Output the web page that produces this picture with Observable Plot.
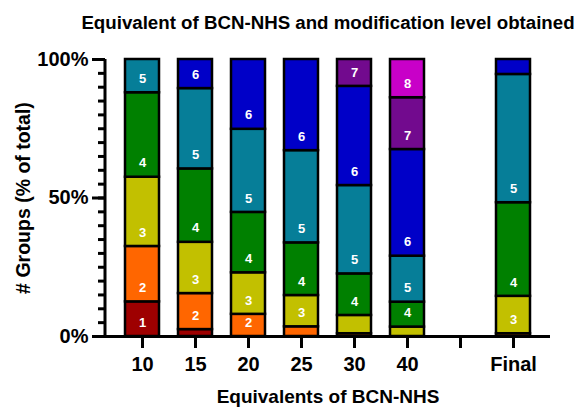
<!DOCTYPE html>
<html>
<head>
<meta charset="utf-8">
<script src="https://cdn.jsdelivr.net/npm/d3@7"></script>
<script src="https://cdn.jsdelivr.net/npm/@observablehq/plot@0.6"></script>
<style>
  html, body { margin: 0; padding: 0; background: #fff; }
  #chart { width: 576px; height: 408px; }
</style>
</head>
<body>
<div id="chart"></div>
<script>
const title = "Equivalent of BCN-NHS and modification level obtained";
const xTitle = "Equivalents of BCN-NHS";
const yTitle = "# Groups (% of total)";

const categories = ["10", "15", "20", "25", "30", "40", " ", "Final"];
const levels = ["1", "2", "3", "4", "5", "6", "7", "8"];
const levelColors = ["#9E0000", "#FF6600", "#C2C000", "#008000", "#067E98", "#0000C8", "#720A8E", "#C800C8"];

// % of total per modification level, by category (10,15,20,25,30,40,blank,Final)
const level1 = [12.5, 2.5, 0, 0, 0, 0, 0, 0];
const level2 = [20, 13, 8, 3.5, 1, 0, 0, 1];
const level3 = [25, 18.5, 15, 11.3, 6.6, 3.4, 0, 13.5];
const level4 = [30.5, 26.5, 21.8, 19, 15, 9, 0, 33.8];
const level5 = [12, 29, 30, 33.3, 31.9, 16.6, 0, 46.3];
const level6 = [0, 10.5, 25.2, 32.9, 35.8, 38.5, 0, 5.4];
const level7 = [0, 0, 0, 0, 9.7, 18.7, 0, 0];
const level8 = [0, 0, 0, 0, 0, 13.8, 0, 0];

const yMajorTicks = [0, 50, 100];
const yMinorTicks = d3.range(0, 101, 5);

const series = [level1, level2, level3, level4, level5, level6, level7, level8];
const rows = [];
categories.forEach((cat, i) => {
  let cum = 0;
  series.forEach((vals, j) => {
    const v = vals[i];
    if (v > 0) {
      rows.push({cat, level: levels[j], y1: cum, y2: cum + v, v});
      cum += v;
    }
  });
});

const font = "'Liberation Sans', Arial, Helvetica, sans-serif";
const marginLeft = 105;

const chart = Plot.plot({
  width: 576,
  height: 408,
  marginLeft,
  marginRight: 26,
  marginTop: 59,
  marginBottom: 72,
  style: {fontFamily: font, background: "#fff", color: "#000", overflow: "visible"},
  x: {type: "band", domain: categories, paddingInner: 0.35, paddingOuter: 0.33, axis: null},
  y: {domain: [0, 100], axis: null},
  color: {type: "ordinal", domain: levels, range: levelColors},
  marks: [
    Plot.barY(rows, {x: "cat", y1: "y1", y2: "y2", fill: "level", stroke: "#000", strokeWidth: 2.5}),
    Plot.text(rows.filter(d => d.v >= 7.5), {
      x: "cat", y: "y1", text: "level", dy: -14, lineAnchor: "middle",
      fill: "#fff", fontSize: 13, fontWeight: "bold"
    }),
    Plot.ruleY([0], {stroke: "#000", strokeWidth: 3}),
    Plot.axisX({
      tickSize: 12, tickPadding: 8, strokeWidth: 3, fontSize: 20, fontWeight: "bold",
      tickFormat: d => d.trim(), label: null
    }),
    Plot.axisY({ticks: yMinorTicks, tickSize: 7, strokeWidth: 3, tickFormat: () => "", label: null}),
    Plot.axisY({
      ticks: yMajorTicks, tickSize: 13, tickPadding: 4, strokeWidth: 3,
      fontSize: 20, fontWeight: "bold", tickFormat: d => d + "%", label: null
    }),
    Plot.text([title], {frameAnchor: "top", dy: -36, lineAnchor: "middle", textAnchor: "middle", fontSize: 18.7, fontWeight: "bold"}),
    Plot.text([xTitle], {frameAnchor: "bottom", dy: 60, lineAnchor: "middle", textAnchor: "middle", fontSize: 19, fontWeight: "bold"}),
    Plot.text([yTitle], {frameAnchor: "left", dx: -82, rotate: -90, lineAnchor: "middle", textAnchor: "middle", fontSize: 19.5, fontWeight: "bold"})
  ]
});

// y-axis domain line drawn from the y scale
const ys = chart.scale("y");
d3.select(chart).append("line")
  .attr("x1", marginLeft).attr("x2", marginLeft)
  .attr("y1", ys.apply(0) + 1.5).attr("y2", ys.apply(100))
  .attr("stroke", "#000").attr("stroke-width", 3);

document.getElementById("chart").appendChild(chart);
</script>
</body>
</html>
